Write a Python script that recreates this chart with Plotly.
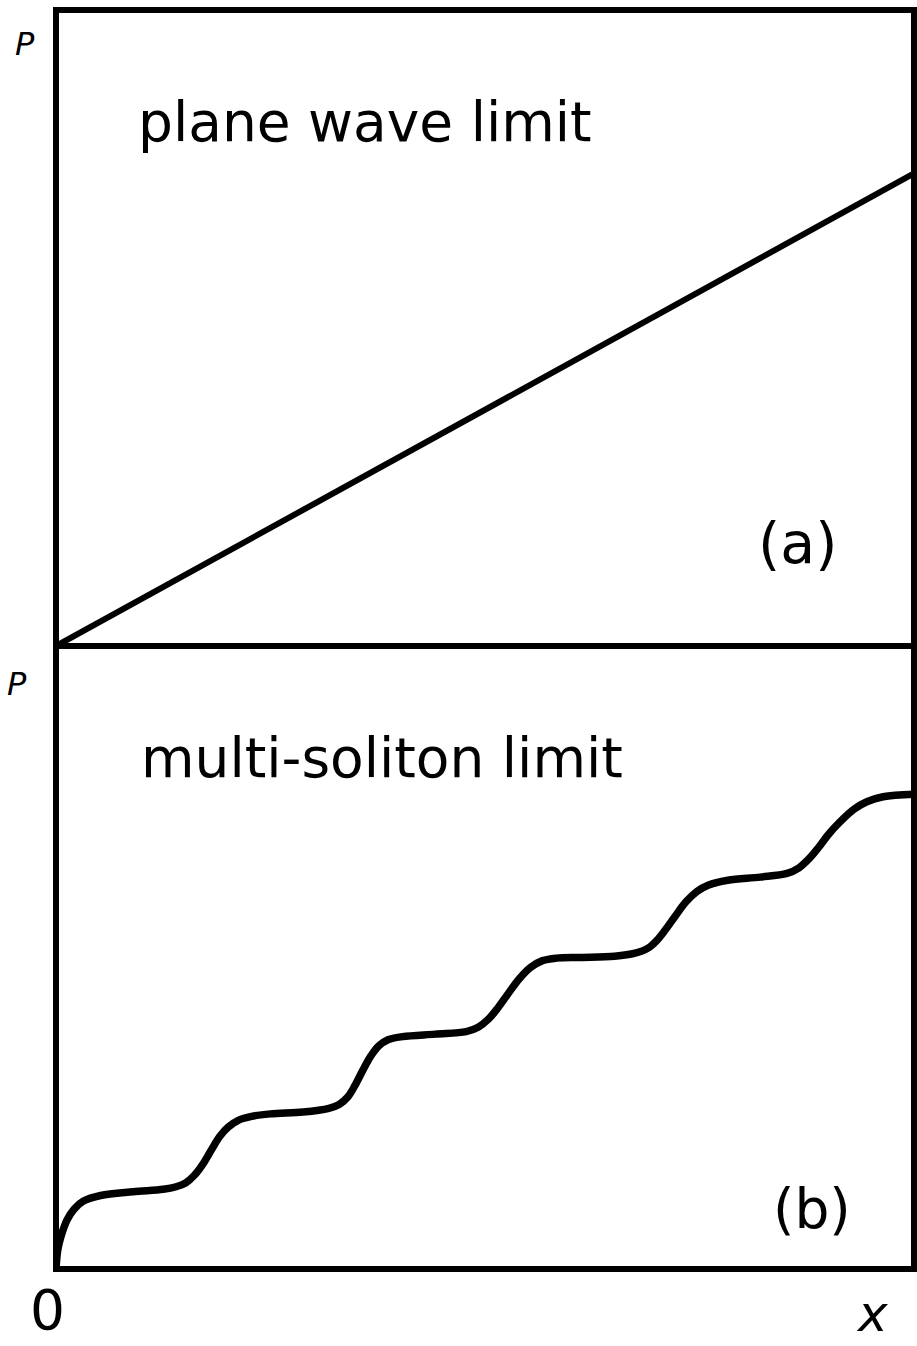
import plotly.graph_objects as go

# Panel (a): plane wave limit, P grows linearly with x
x_plane = [0.0, 1.0]
p_plane = [0.0, 0.743]

# Panel (b): multi-soliton limit, P rises in a staircase of soliton steps
x_soliton = [0.0, 0.002, 0.006, 0.013, 0.021, 0.032, 0.052, 0.090, 0.125, 0.140,
             0.151, 0.161, 0.171, 0.181, 0.191, 0.201, 0.213, 0.228, 0.250, 0.288,
             0.318, 0.330, 0.340, 0.349, 0.358, 0.367, 0.376, 0.387, 0.404, 0.442,
             0.478, 0.492, 0.504, 0.515, 0.527, 0.540, 0.553, 0.567, 0.583, 0.613,
             0.651, 0.675, 0.690, 0.700, 0.710, 0.721, 0.734, 0.747, 0.760, 0.783,
             0.821, 0.852, 0.866, 0.878, 0.889, 0.900, 0.914, 0.930, 0.945, 0.964,
             1.0]
p_soliton = [0.0, 0.030, 0.053, 0.079, 0.096, 0.109, 0.118, 0.124, 0.128, 0.132,
             0.138, 0.150, 0.168, 0.191, 0.213, 0.228, 0.239, 0.245, 0.249, 0.252,
             0.258, 0.264, 0.276, 0.296, 0.320, 0.342, 0.358, 0.368, 0.373, 0.377,
             0.381, 0.388, 0.401, 0.419, 0.442, 0.466, 0.484, 0.495, 0.499, 0.500,
             0.502, 0.507, 0.515, 0.527, 0.544, 0.565, 0.589, 0.606, 0.616, 0.624,
             0.629, 0.635, 0.644, 0.659, 0.677, 0.697, 0.718, 0.738, 0.750, 0.758,
             0.762]

W, H = 917, 1346
ML, MR, MT, MB = 56, 3, 10, 77
PW, PH = W - ML - MR, H - MT - MB
split = (H - MB - 646) / PH  # boundary between the two panels

def px(x, y):
    """pixel position -> paper coordinates"""
    return (x - ML) / PW, (H - MB - y) / PH

FONT = "DejaVu Sans"

fig = go.Figure()
fig.add_trace(go.Scatter(x=x_plane, y=p_plane, mode="lines",
                         line=dict(color="black", width=6),
                         xaxis="x", yaxis="y", showlegend=False))
fig.add_trace(go.Scatter(x=x_soliton, y=p_soliton, mode="lines",
                         line=dict(color="black", width=7.5, shape="spline", smoothing=1.0),
                         xaxis="x2", yaxis="y2", showlegend=False))

axis = dict(showline=False, showgrid=False, zeroline=False, showticklabels=False,
            ticks="", range=[0, 1], fixedrange=True)

fig.update_layout(
    width=W, height=H,
    margin=dict(l=ML, r=MR, t=MT, b=MB),
    paper_bgcolor="white", plot_bgcolor="white",
    xaxis=dict(axis, domain=[0, 1], anchor="y"),
    yaxis=dict(axis, domain=[split, 1], anchor="x"),
    xaxis2=dict(axis, domain=[0, 1], anchor="y2"),
    yaxis2=dict(axis, domain=[0, split], anchor="x2"),
)

# panel frames sharing one edge
for y0, y1 in [(split, 1), (0, split)]:
    fig.add_shape(type="rect", xref="paper", yref="paper", x0=0, x1=1, y0=y0, y1=y1,
                  line=dict(color="black", width=6), fillcolor="rgba(0,0,0,0)", layer="above")

def label(text, x, y, size, italic=False, xanchor="left", yanchor="middle"):
    xp, yp = px(x, y)
    t = f"<i>{text}</i>" if italic else text
    fig.add_annotation(xref="paper", yref="paper", x=xp, y=yp, text=t,
                       showarrow=False, xanchor=xanchor, yanchor=yanchor,
                       font=dict(family=FONT, size=size, color="black"))

label("plane wave limit", 136, 122, 55)
label("(a)", 756, 543, 57)
label("multi-soliton limit", 139, 758, 55)
label("(b)", 771, 1209, 55)
label("P", 25, 44, 32, italic=True, xanchor="center")
label("P", 17, 684, 32, italic=True, xanchor="center")
label("0", 47, 1310, 55, xanchor="center")
label("x", 872, 1345, 50, italic=True, xanchor="center", yanchor="bottom")

fig.write_html("out.html")
